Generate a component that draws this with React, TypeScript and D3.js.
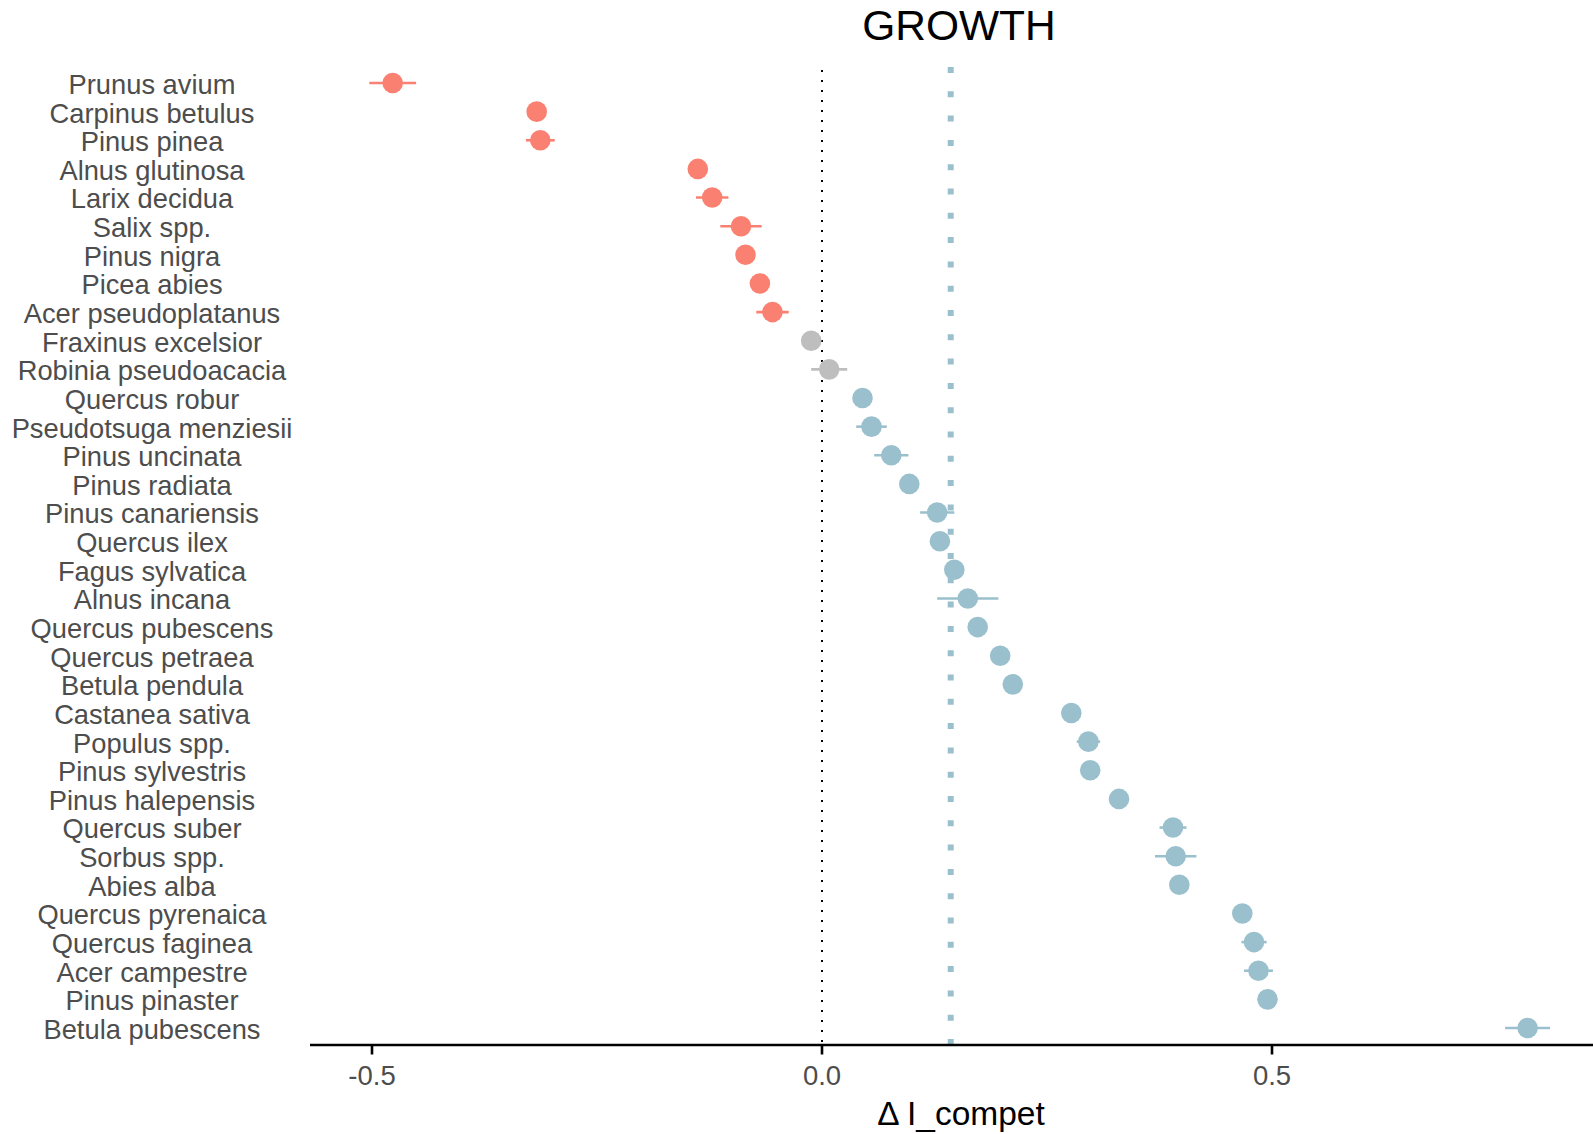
import React, { useRef, useEffect } from 'react';
import * as d3 from 'd3';

const species = [
  'Prunus avium', 'Carpinus betulus', 'Pinus pinea', 'Alnus glutinosa', 'Larix decidua',
  'Salix spp.', 'Pinus nigra', 'Picea abies', 'Acer pseudoplatanus', 'Fraxinus excelsior',
  'Robinia pseudoacacia', 'Quercus robur', 'Pseudotsuga menziesii', 'Pinus uncinata',
  'Pinus radiata', 'Pinus canariensis', 'Quercus ilex', 'Fagus sylvatica', 'Alnus incana',
  'Quercus pubescens', 'Quercus petraea', 'Betula pendula', 'Castanea sativa', 'Populus spp.',
  'Pinus sylvestris', 'Pinus halepensis', 'Quercus suber', 'Sorbus spp.', 'Abies alba',
  'Quercus pyrenaica', 'Quercus faginea', 'Acer campestre', 'Pinus pinaster', 'Betula pubescens'
];

const estimate = [
  -0.477, -0.317, -0.313, -0.138, -0.122, -0.090, -0.085, -0.069, -0.055, -0.012,
  0.008, 0.045, 0.055, 0.077, 0.097, 0.128, 0.131, 0.147, 0.162, 0.173,
  0.198, 0.212, 0.277, 0.296, 0.298, 0.330, 0.390, 0.393, 0.397, 0.467,
  0.480, 0.485, 0.495, 0.784
];

// half width of the error bar
const halfErr = [
  0.026, 0.008, 0.016, 0.008, 0.018, 0.023, 0.008, 0.008, 0.018, 0.008,
  0.020, 0.008, 0.017, 0.019, 0.008, 0.019, 0.008, 0.008, 0.034, 0.008,
  0.008, 0.008, 0.008, 0.013, 0.008, 0.008, 0.015, 0.023, 0.008, 0.008,
  0.014, 0.016, 0.008, 0.025
];

const group = [
  'neg', 'neg', 'neg', 'neg', 'neg', 'neg', 'neg', 'neg', 'neg', 'ns',
  'ns', 'pos', 'pos', 'pos', 'pos', 'pos', 'pos', 'pos', 'pos', 'pos',
  'pos', 'pos', 'pos', 'pos', 'pos', 'pos', 'pos', 'pos', 'pos', 'pos',
  'pos', 'pos', 'pos', 'pos'
];

const meanEffect = 0.143;
const xTicks = [-0.5, 0.0, 0.5];

const colors = { neg: '#FA8072', ns: '#BEBEBE', pos: '#9AC0CD' };

const App = () => {
  const svgRef = useRef(null);

  useEffect(() => {
    const width = 1593;
    const height = 1134;
    const font = '"Liberation Sans", Arial, sans-serif';

    const svg = d3.select(svgRef.current)
      .attr('width', width)
      .attr('height', height)
      .style('font-family', font);
    svg.selectAll('*').remove();

    const panelLeft = 310;
    const panelTop = 66;
    const panelBottom = 1045;

    const x = d3.scaleLinear().domain([-0.5, 0.5]).range([372, 1272]);
    const y = d3.scalePoint().domain(species).range([83, 1028]);

    const rows = species.map((s, i) => ({
      name: s, est: estimate[i], err: halfErr[i], grp: group[i]
    }));

    // reference lines
    svg.append('line')
      .attr('x1', x(0)).attr('x2', x(0))
      .attr('y1', panelTop + 4).attr('y2', panelBottom)
      .attr('stroke', '#000')
      .attr('stroke-width', 2)
      .attr('stroke-dasharray', '2 8');

    svg.append('line')
      .attr('x1', x(meanEffect)).attr('x2', x(meanEffect))
      .attr('y1', panelTop + 1).attr('y2', panelBottom)
      .attr('stroke', colors.pos)
      .attr('stroke-width', 6)
      .attr('stroke-dasharray', '6 18.3');

    // error bars
    svg.selectAll('.err')
      .data(rows)
      .enter()
      .append('line')
      .attr('class', 'err')
      .attr('x1', d => x(d.est - d.err))
      .attr('x2', d => x(d.est + d.err))
      .attr('y1', d => y(d.name))
      .attr('y2', d => y(d.name))
      .attr('stroke', d => colors[d.grp])
      .attr('stroke-width', 2.6);

    // points
    svg.selectAll('.pt')
      .data(rows)
      .enter()
      .append('circle')
      .attr('class', 'pt')
      .attr('cx', d => x(d.est))
      .attr('cy', d => y(d.name))
      .attr('r', 10.3)
      .attr('fill', d => colors[d.grp]);

    // species labels (centred)
    svg.selectAll('.lab')
      .data(species)
      .enter()
      .append('text')
      .attr('class', 'lab')
      .attr('x', 152)
      .attr('y', d => y(d))
      .attr('dy', '0.4em')
      .attr('text-anchor', 'middle')
      .attr('font-size', 27.3)
      .attr('fill', '#4D4D4D')
      .text(d => d);

    // x axis
    svg.append('line')
      .attr('x1', panelLeft).attr('x2', width)
      .attr('y1', panelBottom).attr('y2', panelBottom)
      .attr('stroke', '#000')
      .attr('stroke-width', 2.6);

    const ticks = svg.selectAll('.tick')
      .data(xTicks)
      .enter()
      .append('g')
      .attr('class', 'tick')
      .attr('transform', d => `translate(${x(d)},${panelBottom})`);

    ticks.append('line')
      .attr('y1', 0).attr('y2', 9.5)
      .attr('stroke', '#000')
      .attr('stroke-width', 2.6);

    ticks.append('text')
      .attr('y', 40)
      .attr('text-anchor', 'middle')
      .attr('font-size', 27.5)
      .attr('fill', '#4D4D4D')
      .text(d => d.toFixed(1));

    svg.append('text')
      .attr('x', 961)
      .attr('y', 1125)
      .attr('text-anchor', 'middle')
      .attr('font-size', 33.5)
      .attr('fill', '#000')
      .text('\u0394 I_compet');

    svg.append('text')
      .attr('x', 959)
      .attr('y', 40)
      .attr('text-anchor', 'middle')
      .attr('font-size', 42.5)
      .attr('fill', '#000')
      .text('GROWTH');
  }, []);

  return (
    <div style={{ position: 'absolute', left: 0, top: 0 }}>
      <svg ref={svgRef} style={{ display: 'block' }}></svg>
    </div>
  );
};

export default App;
